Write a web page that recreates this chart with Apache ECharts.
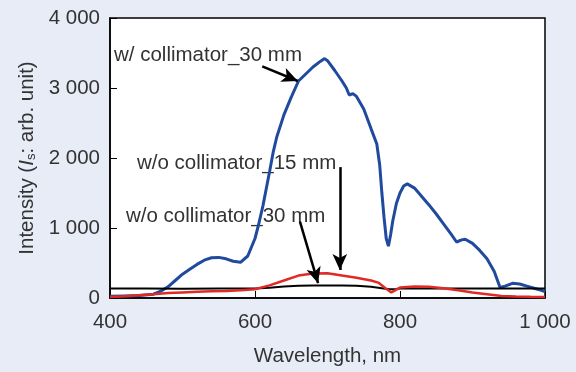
<!DOCTYPE html>
<html>
<head>
<meta charset="utf-8">
<script src="https://cdn.jsdelivr.net/npm/echarts@6/dist/echarts.min.js"></script>
<style>
  html, body { margin: 0; padding: 0; background: #e7ecf6; }
  #chart { width: 576px; height: 372px; }
</style>
</head>
<body>
<div id="chart"></div>
<script>
// wavelength (nm) / intensity pairs
const withCollimator30 = [
  [400, 25], [420, 30], [440, 35], [460, 55], [470, 97], [480, 160], [490, 250],
  [500, 340], [510, 410], [520, 480], [530, 540], [540, 575], [550, 580],
  [560, 560], [570, 525], [580, 510], [590, 600], [600, 850], [605, 1050],
  [611, 1320], [620, 1800], [625, 2080], [630, 2300], [640, 2620], [650, 2870],
  [660, 3100], [670, 3200], [680, 3300], [690, 3380], [696, 3420], [700, 3390],
  [710, 3250], [720, 3100], [726, 3000], [730, 2900], [735, 2920], [740, 2880],
  [750, 2700], [760, 2420], [768, 2200], [772, 1900], [775, 1500], [778, 1150],
  [781, 850], [784, 740], [787, 900], [790, 1100], [795, 1350], [800, 1500],
  [805, 1600], [810, 1630], [820, 1570], [830, 1450], [840, 1330], [850, 1200],
  [860, 1060], [870, 920], [878, 800], [885, 830], [890, 840], [900, 780],
  [910, 680], [920, 560], [930, 380], [938, 150], [945, 170], [955, 210],
  [965, 200], [975, 170], [985, 140], [995, 110], [1000, 90]
];
const withoutCollimator30 = [
  [400, 135], [450, 135], [500, 133], [550, 135], [600, 137], [620, 145],
  [640, 165], [660, 175], [680, 180], [700, 180], [720, 178], [740, 175],
  [760, 160], [775, 140], [785, 125], [795, 128], [800, 135], [850, 135],
  [900, 135], [950, 135], [1000, 135]
];
const withoutCollimator15 = [
  [400, 15], [420, 25], [440, 40], [460, 55], [480, 70], [500, 80], [520, 90],
  [540, 95], [560, 100], [580, 110], [600, 125], [620, 180], [640, 250],
  [660, 320], [680, 350], [700, 355], [720, 320], [740, 290], [760, 250],
  [770, 220], [780, 140], [788, 80], [795, 120], [800, 150], [820, 165],
  [840, 160], [860, 140], [880, 110], [900, 80], [920, 55], [940, 30],
  [960, 20], [980, 17], [1000, 15]
];
// annotation arrows: [from, to] in data coordinates
const arrows = [
  [[610, 3310], [659, 3100]],
  [[717, 1870], [717, 400]],
  [[662, 1090], [687, 212]]
];
const labels = ['w/ collimator_30 mm', 'w/o collimator_15 mm', 'w/o collimator_30 mm'];

const textColor = '#333';
const fontSize = 20.5;
const fmt = v => String(v).replace(/\B(?=(\d{3})+(?!\d))/g, ' ');

const chart = echarts.init(document.getElementById('chart'));
chart.setOption({
  backgroundColor: '#e7ecf6',
  animation: false,
  textStyle: { fontFamily: 'Liberation Sans, Arial, sans-serif' },
  grid: {
    left: 110, right: 31, top: 18, bottom: 65,
    show: true, backgroundColor: '#fff', borderColor: '#000', borderWidth: 1.5
  },
  xAxis: {
    type: 'value', min: 400, max: 1000, interval: 200,
    name: 'Wavelength, nm', nameLocation: 'middle', nameGap: 48,
    nameTextStyle: { color: textColor, fontSize: fontSize },
    axisLine: { lineStyle: { color: '#000', width: 1.5 } },
    axisTick: { inside: true, length: 7, lineStyle: { color: '#000' } },
    axisLabel: { color: textColor, fontSize: fontSize, margin: 14, formatter: fmt },
    splitLine: { show: false }
  },
  yAxis: {
    type: 'value', min: 0, max: 4000, interval: 1000,
    name: '{a|Intensity (}{i|I}{s|s}{a|: arb. unit)}',
    nameLocation: 'middle', nameGap: 72, nameRotate: 90,
    nameTextStyle: {
      rich: {
        a: { color: textColor, fontSize: fontSize },
        i: { color: textColor, fontSize: fontSize, fontStyle: 'italic' },
        s: { color: textColor, fontSize: 13, padding: [8, 0, 0, 0] }
      }
    },
    axisLine: { show: true, lineStyle: { color: '#000', width: 1.5 } },
    axisTick: { show: true, inside: true, length: 7, lineStyle: { color: '#000' } },
    axisLabel: { color: textColor, fontSize: fontSize, margin: 10, formatter: fmt },
    splitLine: { show: false }
  },
  series: [
    {
      name: labels[0], type: 'line', data: withCollimator30, showSymbol: false,
      lineStyle: { color: '#1f4a9e', width: 3 }, z: 2
    },
    {
      name: labels[2], type: 'line', data: withoutCollimator30, showSymbol: false,
      lineStyle: { color: '#000', width: 2 }, z: 3
    },
    {
      name: labels[1], type: 'line', data: withoutCollimator15, showSymbol: false,
      lineStyle: { color: '#e02a26', width: 2.5 }, z: 4,
      markLine: {
        silent: true, animation: false,
        symbol: ['none', 'arrow'], symbolSize: [11, 16],
        label: { show: false },
        lineStyle: { color: '#000', width: 2.5, type: 'solid' },
        data: arrows.map(a => [{ coord: a[0] }, { coord: a[1] }])
      }
    }
  ],
  graphic: [
    { type: 'text', left: 114, top: 45, style: { text: labels[0], fill: textColor, font: fontSize + 'px Liberation Sans' } },
    { type: 'text', left: 137, top: 153, style: { text: labels[1], fill: textColor, font: fontSize + 'px Liberation Sans' } },
    { type: 'text', left: 126, top: 206, style: { text: labels[2], fill: textColor, font: fontSize + 'px Liberation Sans' } }
  ]
});
</script>
</body>
</html>
